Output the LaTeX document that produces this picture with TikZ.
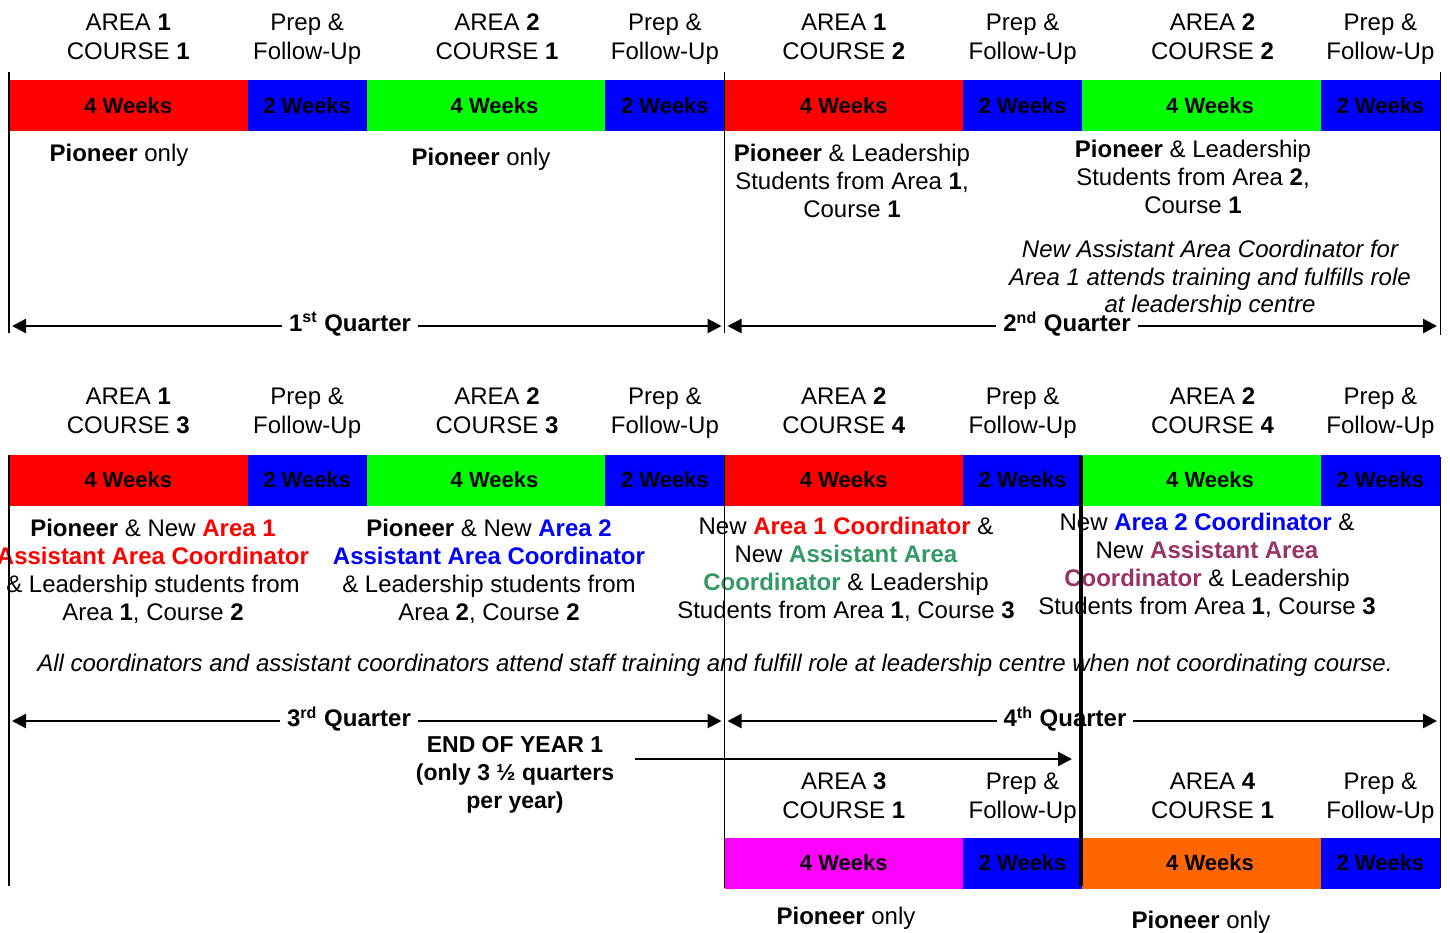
\documentclass[tikz,border=0pt]{standalone}
\usepackage{fontspec}
\setmainfont{Liberation Sans}
\usetikzlibrary{shapes,arrows,arrows.meta,positioning,fit}

\definecolor{wkred}{RGB}{255,0,0}
\definecolor{wkblue}{RGB}{0,0,255}
\definecolor{wkgreen}{RGB}{0,255,0}
\definecolor{wkpink}{RGB}{255,0,255}
\definecolor{wkorange}{RGB}{255,102,0}
\definecolor{coordred}{RGB}{255,0,0}
\definecolor{coordblue}{RGB}{0,0,255}
\definecolor{coordgreen}{RGB}{51,153,102}
\definecolor{coordplum}{RGB}{153,51,102}

\newcommand{\colbf}[2]{\textcolor{#1}{\textbf{#2}}}

\begin{document}
\begin{tikzpicture}[x=0.5pt,y=-0.5pt,>={Triangle[length=7pt,width=7pt]},
    every node/.style={inner sep=0pt,outer sep=0pt,font=\fontsize{12}{14.5}\selectfont},
    txt/.style={align=center,anchor=south,text depth=0pt},
    body/.style={align=center,font=\fontsize{12}{14}\selectfont},
    note/.style={align=center,font=\itshape\fontsize{12}{13.75}\selectfont},
    seg/.style={minimum height=25.5pt,font=\bfseries\fontsize{11}{13}\selectfont},
    long/.style={seg,minimum width=119.25pt},
    short/.style={seg,minimum width=59.625pt,fill=wkblue},
    offcentre/.style={execute at begin node=\hspace*{8.5pt}},
    qlabel/.style={inner xsep=2pt,font=\bfseries\fontsize{12}{14}\selectfont},
    quarter/.style={line width=1.2pt,shorten >=1.5pt,shorten <=1.5pt},
    divider/.style={line width=0.75pt}]
    \useasboundingbox (0,0) rectangle (1450,932);
    %
    \node[long,fill=wkred,anchor=west] (r1a) at (9,105.5) {4 Weeks};
    \node[short,right=0pt of r1a] (r1b) {2 Weeks};
    \node[long,fill=wkgreen,offcentre,right=0pt of r1b] (r1c) {4 Weeks};
    \node[short,right=0pt of r1c] (r1d) {2 Weeks};
    \node[long,fill=wkred,right=0pt of r1d] (r1e) {4 Weeks};
    \node[short,right=0pt of r1e] (r1f) {2 Weeks};
    \node[long,fill=wkgreen,offcentre,right=0pt of r1f] (r1g) {4 Weeks};
    \node[short,right=0pt of r1g] (r1h) {2 Weeks};
    %
    \node[txt] (h1a) at (r1a.center |- 0,59.5) {AREA \textbf{1}\\COURSE \textbf{1}};
    \node[txt] (h1b) at (r1b.center |- 0,59.5) {Prep \&\\Follow-Up};
    \node[txt,xshift=5.5pt] (h1c) at (r1c.center |- 0,59.5) {AREA \textbf{2}\\COURSE \textbf{1}};
    \node[txt] (h1d) at (r1d.center |- 0,59.5) {Prep \&\\Follow-Up};
    \node[txt] (h1e) at (r1e.center |- 0,59.5) {AREA \textbf{1}\\COURSE \textbf{2}};
    \node[txt] (h1f) at (r1f.center |- 0,59.5) {Prep \&\\Follow-Up};
    \node[txt,xshift=5.5pt] (h1g) at (r1g.center |- 0,59.5) {AREA \textbf{2}\\COURSE \textbf{2}};
    \node[txt] (h1h) at (r1h.center |- 0,59.5) {Prep \&\\Follow-Up};
    %
    \node[body] (p1a) at (119,155) {\textbf{Pioneer} only};
    \node[body] (p1c) at (481,159) {\textbf{Pioneer} only};
    \node[body] (p1e) at (852,181) {\textbf{Pioneer} \& Leadership\\Students from Area \textbf{1},\\Course \textbf{1}};
    \node[body] (p1g) at (1193,177) {\textbf{Pioneer} \& Leadership\\Students from Area \textbf{2},\\Course \textbf{1}};
    \begin{scope}
      \clip (960,230) rectangle (1440,314);
      \node[note] (trainnote) at (1210,279) {New Assistant Area Coordinator for\\Area 1 attends training and fulfills role\\at leadership centre};
    \end{scope}
    %
    \node[qlabel] (q1) at (350,324) {1\textsuperscript{st} Quarter};
    \node[qlabel] (q2) at (1067,324) {2\textsuperscript{nd} Quarter};
    \coordinate (q1l) at (9,326);
    \coordinate (q1r) at (724.5,326);
    \coordinate (q2l) at (724.5,326);
    \coordinate (q2r) at (1440,326);
    \draw[quarter,<-] (q1l) -- (q1l -| q1.west);
    \draw[quarter,->] (q1r -| q1.east) -- (q1r);
    \draw[quarter,<-] (q2l) -- (q2l -| q2.west);
    \draw[quarter,->] (q2r -| q2.east) -- (q2r);
    %
    \node[long,fill=wkred,anchor=west] (r2a) at (9,480) {4 Weeks};
    \node[short,right=0pt of r2a] (r2b) {2 Weeks};
    \node[long,fill=wkgreen,offcentre,right=0pt of r2b] (r2c) {4 Weeks};
    \node[short,right=0pt of r2c] (r2d) {2 Weeks};
    \node[long,fill=wkred,right=0pt of r2d] (r2e) {4 Weeks};
    \node[short,right=0pt of r2e] (r2f) {2 Weeks};
    \node[long,fill=wkgreen,offcentre,right=0pt of r2f] (r2g) {4 Weeks};
    \node[short,right=0pt of r2g] (r2h) {2 Weeks};
    %
    \node[txt] (h2a) at (r2a.center |- 0,433.5) {AREA \textbf{1}\\COURSE \textbf{3}};
    \node[txt] (h2b) at (r2b.center |- 0,433.5) {Prep \&\\Follow-Up};
    \node[txt,xshift=5.5pt] (h2c) at (r2c.center |- 0,433.5) {AREA \textbf{2}\\COURSE \textbf{3}};
    \node[txt] (h2d) at (r2d.center |- 0,433.5) {Prep \&\\Follow-Up};
    \node[txt] (h2e) at (r2e.center |- 0,433.5) {AREA \textbf{2}\\COURSE \textbf{4}};
    \node[txt] (h2f) at (r2f.center |- 0,433.5) {Prep \&\\Follow-Up};
    \node[txt,xshift=5.5pt] (h2g) at (r2g.center |- 0,433.5) {AREA \textbf{2}\\COURSE \textbf{4}};
    \node[txt] (h2h) at (r2h.center |- 0,433.5) {Prep \&\\Follow-Up};
    %
    \node[body] (p2a) at (153,571) {\textbf{Pioneer} \& New \colbf{coordred}{Area 1}\\\colbf{coordred}{Assistant Area Coordinator}\\\& Leadership students from\\Area \textbf{1}, Course \textbf{2}};
    \node[body] (p2c) at (489,571) {\textbf{Pioneer} \& New \colbf{coordblue}{Area 2}\\\colbf{coordblue}{Assistant Area Coordinator}\\\& Leadership students from\\Area \textbf{2}, Course \textbf{2}};
    \node[body] (p2e) at (846,569) {New \colbf{coordred}{Area 1 Coordinator} \&\\New \colbf{coordgreen}{Assistant Area}\\\colbf{coordgreen}{Coordinator} \& Leadership\\Students from Area \textbf{1}, Course \textbf{3}};
    \node[body] (p2g) at (1207,565) {New \colbf{coordblue}{Area 2 Coordinator} \&\\New \colbf{coordplum}{Assistant Area}\\\colbf{coordplum}{Coordinator} \& Leadership\\Students from Area \textbf{1}, Course \textbf{3}};
    \node[note] (staffnote) at (715,665) {All coordinators and assistant coordinators attend staff training and fulfill role at leadership centre when not coordinating course.};
    %
    \node[qlabel] (q3) at (349,719) {3\textsuperscript{rd} Quarter};
    \node[qlabel] (q4) at (1065,719) {4\textsuperscript{th} Quarter};
    \coordinate (q3l) at (9,721);
    \coordinate (q3r) at (724.5,721);
    \coordinate (q4l) at (724.5,721);
    \coordinate (q4r) at (1440,721);
    \draw[quarter,<-] (q3l) -- (q3l -| q3.west);
    \draw[quarter,->] (q3r -| q3.east) -- (q3r);
    \draw[quarter,<-] (q4l) -- (q4l -| q4.west);
    \draw[quarter,->] (q4r -| q4.east) -- (q4r);
    %
    \node[body,font=\bfseries\fontsize{11.5}{14}\selectfont] (eoy) at (515,775) {END OF YEAR 1\\(only 3 ½ quarters\\per year)};
    \coordinate (eoyend) at (1072,759);
    \draw[line width=1.2pt,->,shorten <=10.5pt] (eoy.east |- eoyend) -- (eoyend);
    %
    \node[long,fill=wkpink,anchor=west] (r3a) at (724.5,863) {4 Weeks};
    \node[short,right=0pt of r3a] (r3b) {2 Weeks};
    \node[long,fill=wkorange,offcentre,right=0pt of r3b] (r3c) {4 Weeks};
    \node[short,right=0pt of r3c] (r3d) {2 Weeks};
    \node[txt] (h3a) at (r3a.center |- 0,818.5) {AREA \textbf{3}\\COURSE \textbf{1}};
    \node[txt] (h3b) at (r3b.center |- 0,818.5) {Prep \&\\Follow-Up};
    \node[txt,xshift=5.5pt] (h3c) at (r3c.center |- 0,818.5) {AREA \textbf{4}\\COURSE \textbf{1}};
    \node[txt] (h3d) at (r3d.center |- 0,818.5) {Prep \&\\Follow-Up};
    \node[body] (p3a) at (846,918) {\textbf{Pioneer} only};
    \node[body] (p3c) at (1201,922) {\textbf{Pioneer} only};
    %
    \draw[divider] (9,72) -- (9,333);
    \draw[divider] (724.5,72) -- (724.5,333);
    \draw[divider] (1440.5,72) -- (1440.5,335);
    \draw[divider] (9,455) -- (9,886);
    \draw[divider] (724.5,455) -- (724.5,888);
    \draw[divider] (1440.5,457) -- (1440.5,888);
    \draw[line width=2.2pt] (1081,456) -- (1081,886);
\end{tikzpicture}
\end{document}
